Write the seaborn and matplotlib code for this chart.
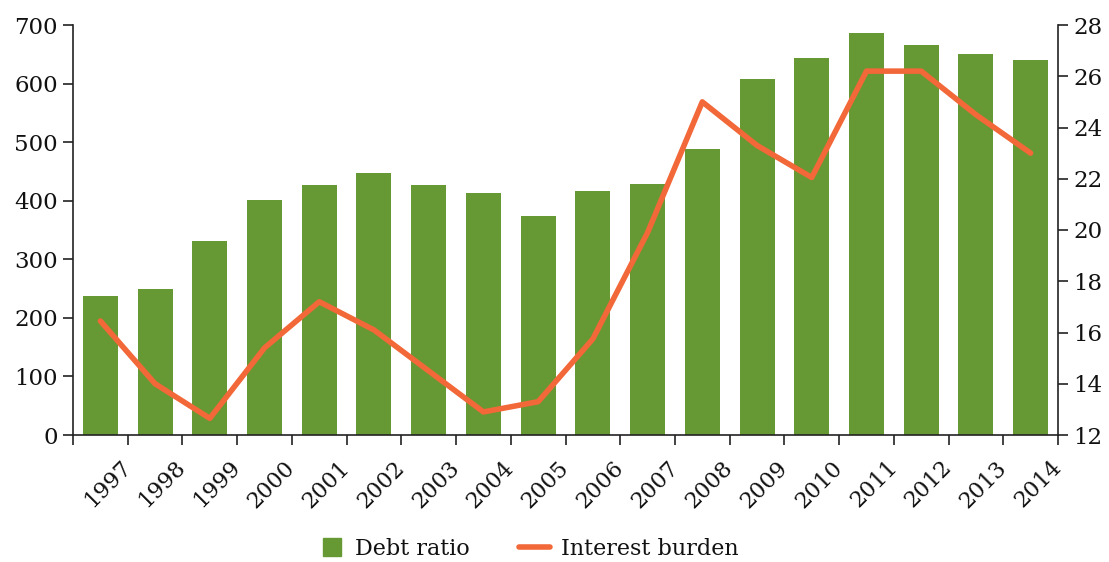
import numpy as np
import pandas as pd
import matplotlib
matplotlib.use("Agg")
import matplotlib.pyplot as plt
import seaborn as sns
from matplotlib.legend_handler import HandlerPatch
import matplotlib.patches as mpatches

years = ["1997", "1998", "1999", "2000", "2001", "2002", "2003", "2004", "2005",
         "2006", "2007", "2008", "2009", "2010", "2011", "2012", "2013", "2014"]
debt_ratio = [237, 250, 332, 401, 427, 447, 426, 413, 374,
              416, 429, 489, 607, 643, 686, 666, 650, 640]
interest_burden = [16.45, 14.0, 12.65, 15.4, 17.2, 16.1, 14.5, 12.9, 13.3,
                   15.75, 19.9, 25.0, 23.3, 22.05, 26.2, 26.2, 24.5, 23.0]

GREEN = "#669933"
ORANGE = "#F26838"

sns.set_theme(style="ticks")
plt.rcParams["font.family"] = ["DejaVu Serif"]
plt.rcParams["axes.edgecolor"] = "#222222"
plt.rcParams["text.color"] = "#111111"
plt.rcParams["xtick.color"] = "#222222"
plt.rcParams["ytick.color"] = "#222222"
plt.rcParams["xtick.labelcolor"] = "#111111"
plt.rcParams["ytick.labelcolor"] = "#111111"

df = pd.DataFrame({"year": years, "debt": debt_ratio, "interest": interest_burden})
df["pos"] = np.arange(len(df))

fig = plt.figure(figsize=(11.09, 5.62), dpi=100)
ax = fig.add_axes([73 / 1109, 1 - 435 / 562, (1058 - 73) / 1109, (435 - 25) / 562])

sns.barplot(data=df, x="year", y="debt", color=GREEN, saturation=1, width=0.64,
            ax=ax, edgecolor="none")
ax.set_xlim(-0.5, len(years) - 0.5)
ax.set_ylim(0, 700)
ax.set_yticks(np.arange(0, 701, 100))
ax.set_xlabel("")
ax.set_ylabel("")

ax2 = ax.twinx()
sns.lineplot(data=df, x="pos", y="interest", color=ORANGE, linewidth=4, ax=ax2,
             label="Interest burden", legend=False)
ax2.set_ylim(12, 28)
ax2.set_yticks(np.arange(12, 29, 2))
ax2.set_xlim(-0.5, len(years) - 0.5)
ax2.set_ylabel("")
ax2.set_xlabel("")

# x ticks at category boundaries, labels offset to the right boundary
bounds = np.arange(-0.5, len(years), 1.0)
ax.set_xticks(bounds)
ax.set_xticklabels([""] + years, rotation=45, ha="right", va="center",
                   rotation_mode="anchor")
ax.tick_params(axis="x", length=7, width=1.2, pad=14, labelsize=16)
ax.tick_params(axis="y", length=7, width=1.2, labelsize=16.5, pad=4)
ax2.tick_params(axis="y", length=7, width=1.2, labelsize=16.5, pad=4)

for a in (ax, ax2):
    a.spines["top"].set_visible(False)
    for s in ("left", "bottom", "right"):
        a.spines[s].set_linewidth(1.2)
ax.spines["right"].set_visible(False)
ax2.spines["left"].set_visible(False)
ax2.spines["bottom"].set_visible(False)

def square_patch(legend, orig_handle, xdescent, ydescent, width, height, fontsize):
    s = height * 1.15
    return mpatches.Rectangle((xdescent + width - s - 2, ydescent + (height - s) / 2), s, s)

h2, l2 = ax2.get_legend_handles_labels()
bar_handle = mpatches.Patch(color=GREEN)
fig.legend([bar_handle, h2[0]], ["Debt ratio", l2[0]], loc="center",
           bbox_to_anchor=(0.474, 0.024), ncol=2, frameon=False, fontsize=16,
           handlelength=1.4, handletextpad=0.5, columnspacing=2.2,
           handler_map={mpatches.Patch: HandlerPatch(patch_func=square_patch)})

fig.savefig("out.png", dpi=100)
